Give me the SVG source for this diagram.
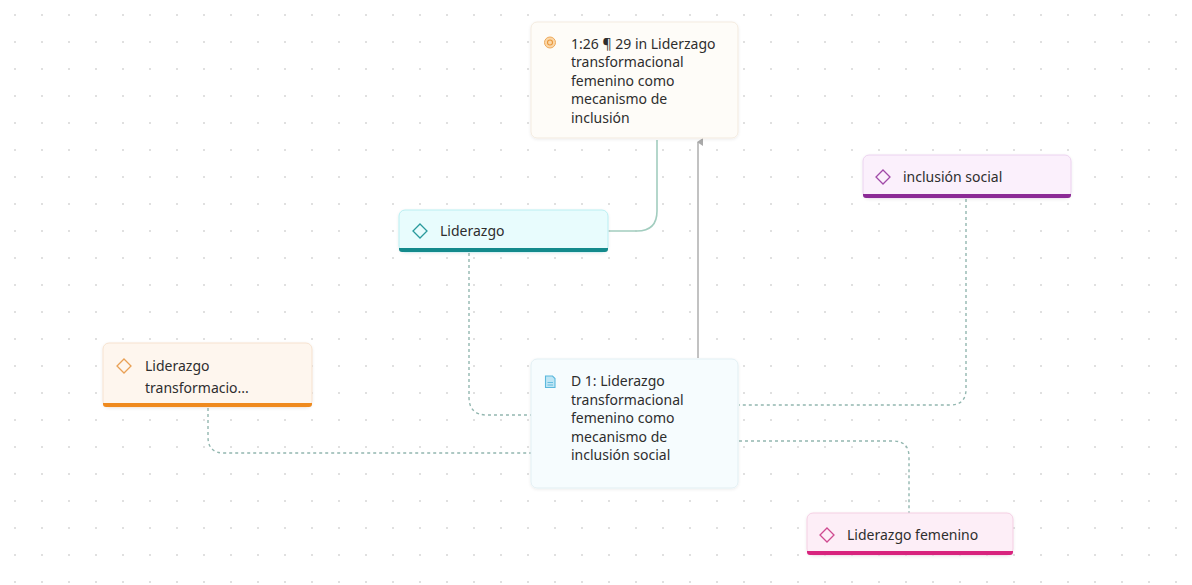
<svg xmlns="http://www.w3.org/2000/svg" width="1192" height="585" viewBox="0 0 1192 585">
<defs>
<pattern id="dots" x="0" y="0" width="27" height="27" patternUnits="userSpaceOnUse">
<circle cx="15" cy="15" r="1" fill="#d6d6d6"/>
</pattern>
<filter id="sh" x="-10%" y="-20%" width="120%" height="150%">
<feDropShadow dx="0" dy="1" stdDeviation="1.5" flood-color="#000" flood-opacity="0.08"/>
</filter>
<marker id="arr" viewBox="0 0 10 10" refX="5" refY="2" markerWidth="10" markerHeight="10" markerUnits="userSpaceOnUse" orient="auto-start-reverse">
<path d="M1,7 L5,1 L9,7 Z" fill="#a9a9a9"/>
</marker>
<style>
text{font-family:"Noto Sans","Open Sans","Liberation Sans",sans-serif;font-size:14px;fill:#2e2e2e;}
.dash{fill:none;stroke:#93b7b0;stroke-width:1.4;stroke-dasharray:3 3;}
.solidg{fill:none;stroke:#a2cdbf;stroke-width:1.6;}
.solid{fill:none;stroke:#b3b3b3;stroke-width:1.6;}
</style>
</defs>
<rect width="1192" height="585" fill="#ffffff"/>
<rect width="1192" height="585" fill="url(#dots)"/>

<g id="connectors">
<path class="solidg" d="M609,231 H637 Q657,231 657,211 V140"/>
<path class="solid" d="M698,358 V142" marker-end="url(#arr)"/>
<path class="dash" d="M469,253 V397 Q469,415 487,415 H531"/>
<path class="dash" d="M208,408 V437 Q208,453 224,453 H531"/>
<path class="dash" d="M966,199 V389 Q966,405 950,405 H739"/>
<path class="dash" d="M739,441 H893 Q909,441 909,457 V513"/>
</g>

<g id="node-quote">
<rect x="531" y="22" width="207" height="116" rx="6" fill="#fefcf8" stroke="#f3ebdf" stroke-width="1" filter="url(#sh)"/>
<circle cx="550" cy="42.5" r="5.5" fill="#fbd7a8" stroke="#eeaa5c" stroke-width="1"/>
<circle cx="550" cy="42.5" r="2.5" fill="none" stroke="#e9983d" stroke-width="1.1"/>
<text x="571" y="48.5">1:26 ¶ 29 in Liderzago</text>
<text x="571" y="67">transformacional</text>
<text x="571" y="85.5">femenino como</text>
<text x="571" y="104">mecanismo de</text>
<text x="571" y="122.5">inclusión</text>
</g>

<g id="node-liderazgo">
<rect x="399" y="210" width="209" height="42" rx="6" fill="#e8fcfd" stroke="#b9eef1" stroke-width="1" filter="url(#sh)"/>
<path d="M399,248 H608 V249 A3,3 0 0 1 605,252 H402 A3,3 0 0 1 399,249 Z" fill="#148a8c"/>
<path d="M420,224 L427,231 L420,238 L413,231 Z" fill="none" stroke="#2a9a9c" stroke-width="1.3"/>
<text x="440" y="235.5">Liderazgo</text>
</g>

<g id="node-inclusion">
<rect x="863" y="155" width="208" height="43" rx="6" fill="#fbf0fc" stroke="#ecd2ef" stroke-width="1" filter="url(#sh)"/>
<path d="M863,194 H1071 V195 A3,3 0 0 1 1068,198 H866 A3,3 0 0 1 863,195 Z" fill="#8c2a96"/>
<path d="M883,170 L890,177 L883,184 L876,177 Z" fill="none" stroke="#a04aa8" stroke-width="1.3"/>
<text x="903" y="181.5">inclusión social</text>
</g>

<g id="node-transformacional">
<rect x="103" y="343" width="209" height="64" rx="6" fill="#fef6ee" stroke="#f6e2cf" stroke-width="1" filter="url(#sh)"/>
<path d="M103,403 H312 V404 A3,3 0 0 1 309,407 H106 A3,3 0 0 1 103,404 Z" fill="#ef8a1e"/>
<path d="M124,359 L131,366 L124,373 L117,366 Z" fill="none" stroke="#e9a055" stroke-width="1.3"/>
<text x="145" y="371">Liderazgo</text>
<text x="145" y="392.5">transformacio...</text>
</g>

<g id="node-d1">
<rect x="531" y="359" width="207" height="129" rx="6" fill="#f6fcfe" stroke="#e2eff3" stroke-width="1" filter="url(#sh)"/>
<path d="M545.5,376 H552.5 L555,378.5 V387.5 H545.5 Z" fill="#bfe6f5" stroke="#5bb8dc" stroke-width="1.1"/>
<path d="M547.5,382.5 H553 M547.5,385 H553" stroke="#5bb8dc" stroke-width="0.9"/>
<text x="571" y="386">D 1: Liderazgo</text>
<text x="571" y="404.5">transformacional</text>
<text x="571" y="423">femenino como</text>
<text x="571" y="441.5">mecanismo de</text>
<text x="571" y="460">inclusión social</text>
</g>

<g id="node-femenino">
<rect x="807" y="513" width="206" height="42" rx="6" fill="#fdeef7" stroke="#f4cfe3" stroke-width="1" filter="url(#sh)"/>
<path d="M807,551 H1013 V552 A3,3 0 0 1 1010,555 H810 A3,3 0 0 1 807,552 Z" fill="#d8247e"/>
<path d="M827,528 L834,535 L827,542 L820,535 Z" fill="none" stroke="#cf4a90" stroke-width="1.3"/>
<text x="847" y="539.5">Liderazgo femenino</text>
</g>
</svg>
